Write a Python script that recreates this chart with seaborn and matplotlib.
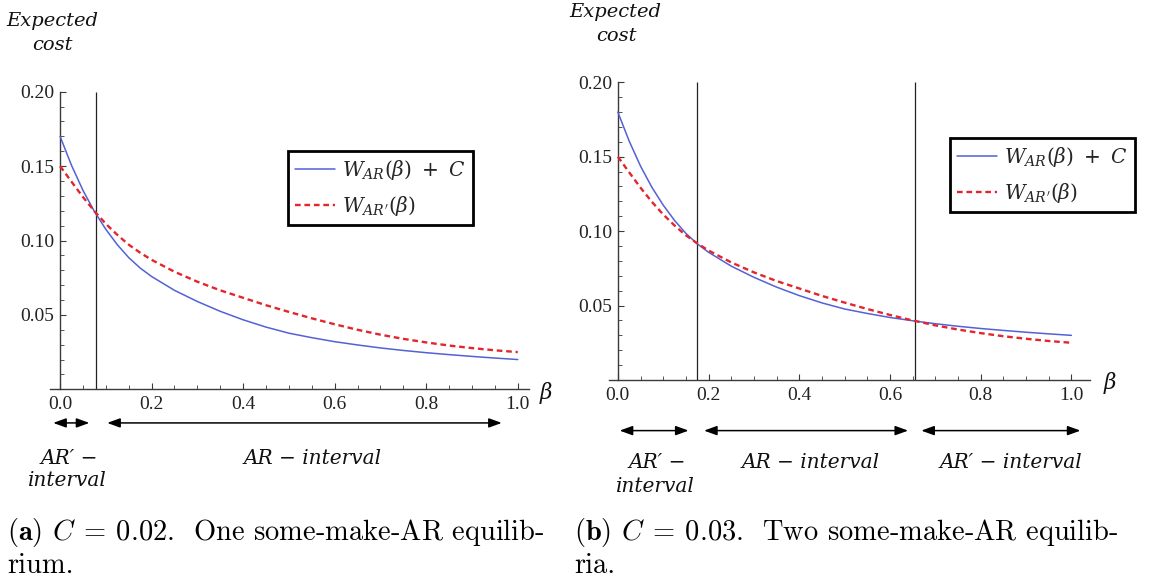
import matplotlib
matplotlib.use("Agg")
import numpy as np
import pandas as pd
import matplotlib.pyplot as plt
import seaborn as sns
from matplotlib.ticker import MultipleLocator
from matplotlib.transforms import blended_transform_factory

# ---------------- data ----------------
beta = [0.0, 0.025, 0.05, 0.075, 0.1, 0.125, 0.15, 0.175, 0.2, 0.25, 0.3, 0.35, 0.4,
        0.45, 0.5, 0.55, 0.6, 0.65, 0.7, 0.75, 0.8, 0.85, 0.9, 0.95, 1.0]
w_ar = [0.150, 0.1305, 0.1137, 0.0995, 0.0875, 0.0772, 0.0685, 0.0615, 0.0558, 0.0465,
        0.0390, 0.0324, 0.0267, 0.0218, 0.0177, 0.0147, 0.0120, 0.0098, 0.0078, 0.0061,
        0.0046, 0.0033, 0.0021, 0.0010, 0.0000]
w_ar_prime = [0.150, 0.1395, 0.1292, 0.1197, 0.1112, 0.1038, 0.0972, 0.0918, 0.0870,
              0.0790, 0.0723, 0.0665, 0.0615, 0.0565, 0.0520, 0.0477, 0.0437, 0.0400,
              0.0367, 0.0339, 0.0315, 0.0294, 0.0277, 0.0262, 0.0250]
cost_values = [0.02, 0.03]
crossings = [[0.078], [0.175, 0.656]]
x_ticks = [0.0, 0.2, 0.4, 0.6, 0.8, 1.0]
x_tick_labels = ["0.0", "0.2", "0.4", "0.6", "0.8", "1.0"]
y_ticks = [0.05, 0.10, 0.15, 0.20]
y_tick_labels = ["0.05", "0.10", "0.15", "0.20"]
legend_labels = [r"$W_{AR}(\beta)\ +\ C\,$", r"$W_{AR'}(\beta)$"]
interval_labels = [
    [["AR\u2032 \u2212", "interval"], ["AR \u2212 interval"]],
    [["AR\u2032 \u2212", "interval"], ["AR \u2212 interval"], ["AR\u2032 \u2212 interval"]],
]
captions = [
    [r"$\mathbf{(a)}$ $C\:=\:0.02$.  One some-make-AR equilib-", "rium."],
    [r"$\mathbf{(b)}$ $C\:=\:0.03$.  Two some-make-AR equilib-", "ria."],
]

# ---------------- style ----------------
sns.set_theme(style="white")
plt.rcParams["font.family"] = ["Liberation Serif", "DejaVu Serif"]
plt.rcParams["mathtext.fontset"] = "dejavuserif"

W, H = 1152, 582
fig = plt.figure(figsize=(W / 100, H / 100), dpi=100)
fig.patch.set_facecolor("white")

BLUE = "#5361d6"
RED = "#e2262c"
AXC = "#3a3a3a"


def px_rect(l, t, r, b):
    return [l / W, 1 - b / H, (r - l) / W, (b - t) / H]


def ftext(x, y, s, **kw):
    fig.text(x / W, 1 - y / H, s, **kw)


layout = [
    dict(rect=px_rect(50, 91.7, 529, 389.3), xlim=(-0.022, 1.0245), legend=(0.497, 0.801),
         arrows=[(-0.015, 0.064), (0.103, 0.965)], arrow_y=-0.113,
         label_pos=[[(69, 459), (67, 480)], [(313, 459)]],
         exp=[(52, 21), (52, 45)], beta=(546, 393), cap_x=7),
    dict(rect=px_rect(609, 82.3, 1090, 380), xlim=(-0.0195, 1.041), legend=(0.708, 0.813),
         arrows=[(0.004, 0.156), (0.19, 0.64), (0.669, 1.02)], arrow_y=-0.170,
         label_pos=[[(657, 463), (655, 487)], [(811, 463)], [(1011, 463)]],
         exp=[(615, 12), (616, 36)], beta=(1110, 383), cap_x=574),
]

ital = dict(family="DejaVu Serif", style="italic", fontsize=14.5, color="#111111")

for i, L in enumerate(layout):
    ax = fig.add_axes(L["rect"])
    ax.patch.set_alpha(0)
    C = cost_values[i]
    blue_vals = [w + C for w in w_ar]
    df = pd.DataFrame({"beta": beta, "blue": blue_vals, "red": w_ar_prime})

    for xv in crossings[i]:
        ax.vlines(xv, 0, 0.20, color="#222222", lw=0.9, zorder=1)

    sns.lineplot(data=df, x="beta", y="blue", ax=ax, color=BLUE, lw=1.1,
                 label=legend_labels[0], zorder=3)
    sns.lineplot(data=df, x="beta", y="red", ax=ax, color=RED, lw=1.7,
                 linestyle=(0, (2.4, 1.6)), label=legend_labels[1], zorder=4)

    ax.set_xlim(*L["xlim"])
    ax.set_ylim(0, 0.20)
    ax.set_xlabel("")
    ax.set_ylabel("")
    for s in ["top", "right"]:
        ax.spines[s].set_visible(False)
    ax.spines["left"].set_position(("data", 0))
    ax.spines["bottom"].set_position(("data", 0))
    for s in ["left", "bottom"]:
        ax.spines[s].set_color(AXC)
        ax.spines[s].set_linewidth(1.0)
    ax.set_xticks(x_ticks, x_tick_labels)
    ax.set_yticks(y_ticks, y_tick_labels)
    ax.xaxis.set_minor_locator(MultipleLocator(0.05))
    ax.yaxis.set_minor_locator(MultipleLocator(0.01))
    ax.tick_params(which="both", direction="in", color=AXC, labelcolor="#222222",
                   bottom=True, left=True, top=False, right=False)
    ax.tick_params(which="major", length=4.5, width=0.8, labelsize=14)
    ax.tick_params(which="minor", length=2.6, width=0.6)
    ax.tick_params(axis="x", which="major", pad=5.0)
    ax.tick_params(axis="y", which="major", pad=4.0)
    for lab in ax.get_xticklabels() + ax.get_yticklabels():
        lab.set_fontfamily("Liberation Serif")

    handles, labels = ax.get_legend_handles_labels()
    leg = ax.legend(handles, labels, loc="upper left", bbox_to_anchor=L["legend"],
                    borderaxespad=0, frameon=True, fancybox=False, edgecolor="black",
                    framealpha=1, fontsize=14.5, handlelength=2.0, handletextpad=0.35,
                    borderpad=0.35, labelspacing=0.6)
    leg.get_frame().set_linewidth(2.0)

    # interval arrows below the axis
    trans = blended_transform_factory(ax.transData, ax.transAxes)
    for (x0, x1) in L["arrows"]:
        ax.annotate("", xy=(x1, L["arrow_y"]), xytext=(x0, L["arrow_y"]),
                    xycoords=trans, textcoords=trans, annotation_clip=False,
                    arrowprops=dict(arrowstyle="<|-|>,head_length=0.55,head_width=0.2",
                                    color="black", lw=1.1, shrinkA=0, shrinkB=0,
                                    mutation_scale=14))
    for lines, poss in zip(interval_labels[i], L["label_pos"]):
        for s, (x, y) in zip(lines, poss):
            ftext(x, y, s, ha="center", va="center", **ital)

    # axis titles
    ftext(*L["exp"][0], "Expected", ha="center", va="center",
          **{**ital, "fontsize": 14})
    ftext(*L["exp"][1], "cost", ha="center", va="center", **{**ital, "fontsize": 14})
    ftext(*L["beta"], r"$\beta$", ha="center", va="center", fontsize=15.5, color="#111111")

    # captions
    ftext(L["cap_x"], 540, captions[i][0], ha="left", va="baseline", family="cmr10",
          math_fontfamily="cm", fontsize=20.5, color="black")
    ftext(L["cap_x"], 573, captions[i][1], ha="left", va="baseline", family="cmr10",
          math_fontfamily="cm", fontsize=20.5, color="black")

fig.savefig("out.png", dpi=100, facecolor="white")
